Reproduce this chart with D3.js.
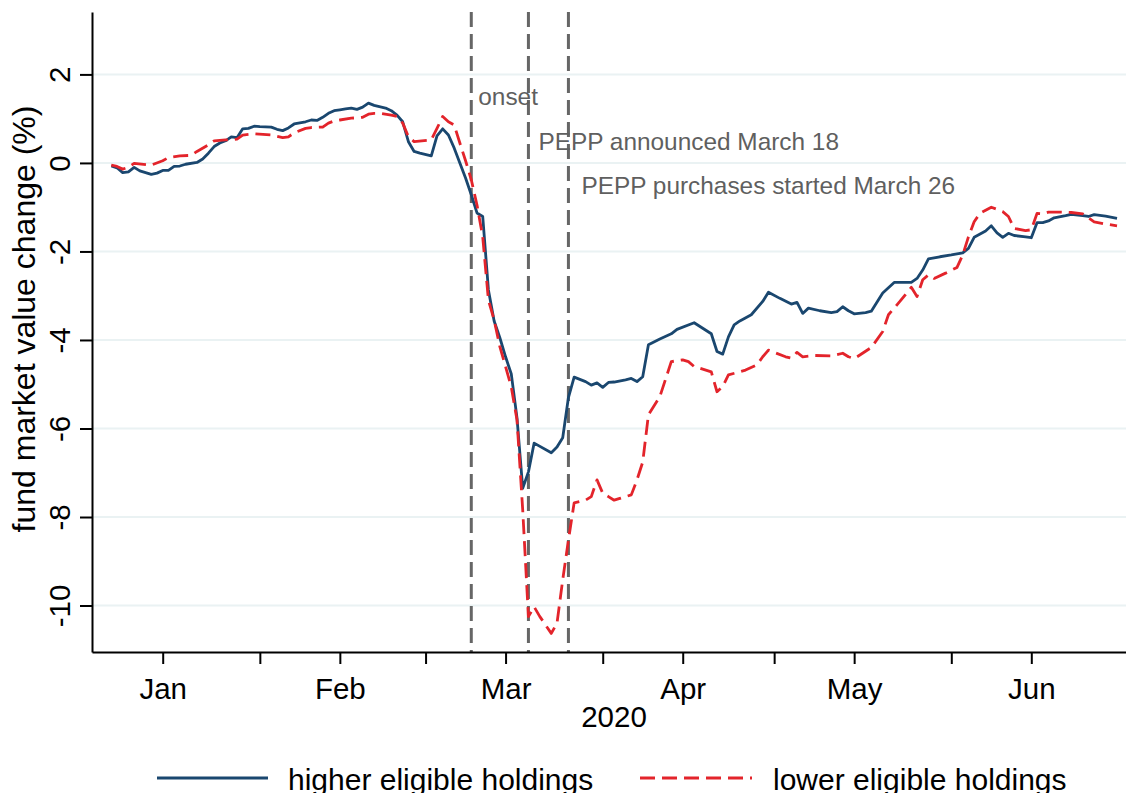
<!DOCTYPE html>
<html>
<head>
<meta charset="utf-8">
<script src="https://cdn.jsdelivr.net/npm/d3@7"></script>
<style>
  body { margin: 0; background: #fff; }
  svg { display: block; font-family: "Liberation Sans", Arial, sans-serif; }
</style>
</head>
<body>
<svg id="chart" width="1126" height="793"></svg>
<script>
// day of year 2020 (1 = Jan 1) and fund market value change in %
const higherDay = [6,7,8,9,10,11,13,14,15,16,17,18,19,21,22,23,24,25,26,27,28,29,30,31,32,34,35,36,37,38,40,41,42,43,44,45,46,47,48,49,50,51,52,54,55,56,57,58,59,60,62,63,64,65,66,67,68,69,70,71,72,73,74,75,76,77,78,79,80,83,84,85,86,87,89,90,91,92,93,94,96,97,98,99,100,102,104,105,108,111,112,113,114,115,116,118,120,121,123,125,126,127,128,130,132,133,134,135,136,138,139,141,143,145,146,147,148,149,151,153,155,156,157,159,160,161,162,163,164,166,167,168,169,170,171,173,174,176,177,178,180,182];
const higherValue = [-0.07,-0.11,-0.22,-0.20,-0.10,-0.18,-0.26,-0.23,-0.17,-0.17,-0.08,-0.07,-0.03,0.01,0.09,0.22,0.37,0.45,0.50,0.59,0.57,0.77,0.78,0.83,0.82,0.81,0.76,0.73,0.79,0.88,0.93,0.97,0.96,1.03,1.12,1.18,1.20,1.22,1.24,1.21,1.26,1.35,1.30,1.24,1.18,1.08,0.93,0.48,0.26,0.22,0.16,0.61,0.77,0.63,0.34,0.00,-0.34,-0.72,-1.13,-1.21,-2.87,-3.57,-3.95,-4.38,-4.77,-5.76,-7.35,-6.98,-6.33,-6.55,-6.42,-6.21,-5.30,-4.84,-4.94,-5.02,-4.97,-5.07,-4.96,-4.95,-4.90,-4.87,-4.94,-4.83,-4.11,-3.98,-3.86,-3.76,-3.61,-3.86,-4.26,-4.32,-3.93,-3.66,-3.57,-3.43,-3.13,-2.92,-3.06,-3.19,-3.15,-3.40,-3.28,-3.34,-3.38,-3.36,-3.25,-3.34,-3.41,-3.38,-3.35,-2.94,-2.70,-2.70,-2.70,-2.61,-2.42,-2.17,-2.12,-2.08,-2.03,-1.93,-1.68,-1.54,-1.42,-1.58,-1.68,-1.59,-1.64,-1.67,-1.69,-1.35,-1.35,-1.31,-1.24,-1.19,-1.16,-1.19,-1.21,-1.17,-1.20,-1.25];

const lowerDay = [6,7,8,9,10,13,15,16,18,20,21,23,24,26,27,28,29,31,34,36,37,38,40,41,43,44,45,46,48,50,51,52,53,55,56,57,58,59,62,63,64,65,66,67,68,69,70,71,72,73,74,76,77,78,79,80,81,83,84,85,86,87,89,90,91,92,93,94,95,97,98,99,100,102,104,106,107,108,111,112,113,114,117,119,120,121,124,125,126,127,129,132,134,135,136,137,139,141,142,144,146,147,148,149,150,152,154,155,156,157,158,160,162,163,164,166,167,168,169,170,172,174,176,178,180,182];
const lowerValue = [-0.05,-0.08,-0.14,-0.10,-0.01,-0.05,0.05,0.12,0.16,0.17,0.26,0.41,0.50,0.52,0.52,0.54,0.63,0.66,0.63,0.57,0.59,0.68,0.78,0.80,0.81,0.90,0.95,0.97,1.01,1.03,1.10,1.12,1.12,1.08,1.05,0.90,0.59,0.48,0.52,0.78,1.05,0.93,0.86,0.45,0.05,-0.38,-0.95,-1.67,-3.10,-3.55,-4.15,-5.06,-5.81,-7.84,-10.25,-10.03,-10.25,-10.63,-10.40,-9.42,-8.52,-7.68,-7.62,-7.54,-7.16,-7.46,-7.54,-7.62,-7.58,-7.50,-7.16,-6.76,-5.69,-5.28,-4.49,-4.45,-4.49,-4.60,-4.72,-5.17,-5.05,-4.79,-4.68,-4.56,-4.38,-4.23,-4.38,-4.41,-4.28,-4.38,-4.35,-4.36,-4.30,-4.38,-4.42,-4.34,-4.17,-3.81,-3.43,-3.13,-2.81,-3.02,-2.64,-2.53,-2.61,-2.49,-2.36,-2.08,-1.67,-1.33,-1.14,-1.00,-1.10,-1.21,-1.48,-1.53,-1.51,-1.14,-1.15,-1.11,-1.11,-1.12,-1.15,-1.33,-1.38,-1.42];

const yTicks = [-10, -8, -6, -4, -2, 0, 2];
const monthLabels = ["Jan", "Feb", "Mar", "Apr", "May", "Jun"];
const eventDays = [69, 79, 86];
const eventLabels = ["onset", "PEPP announced March 18", "PEPP purchases started March 26"];
const seriesNames = ["higher eligible holdings", "lower eligible holdings"];

const day = d => new Date(2020, 0, d);

const plotLeft = 92, plotRight = 1136, plotTop = 12, plotBottom = 652;
const navy = "#1a476f", red = "#e3242b", grey = "#666666";

const svg = d3.select("#chart");

// mid-month ticks carry the labels, first-of-month ticks are unlabeled
const labelTicks = monthLabels.map((m, i) => new Date(2020, i, 15));
const startTicks = monthLabels.slice(1).map((m, i) => new Date(2020, i + 1, 1));

const xFit = d3.scaleTime().domain([labelTicks[0], labelTicks[5]]).range([162.7, 1031.3]);
const x = d3.scaleTime().domain([xFit.invert(plotLeft), xFit.invert(plotRight)]).range([plotLeft, plotRight]);
const y = d3.scaleLinear().domain([-11.05, 3.41]).range([plotBottom, plotTop]);

// grid
svg.append("g")
  .selectAll("line")
  .data(yTicks)
  .join("line")
  .attr("x1", plotLeft).attr("x2", plotRight)
  .attr("y1", d => y(d)).attr("y2", d => y(d))
  .attr("stroke", "#eaf2f3")
  .attr("stroke-width", 2);

// event lines
svg.append("g")
  .selectAll("line")
  .data(eventDays)
  .join("line")
  .attr("x1", d => x(day(d))).attr("x2", d => x(day(d)))
  .attr("y1", plotTop).attr("y2", plotBottom)
  .attr("stroke", grey)
  .attr("stroke-width", 3)
  .attr("stroke-dasharray", "15,7");

const labelRows = [105, 150, 194];
const labelShift = [7, 10, 13];
svg.append("g")
  .selectAll("text")
  .data(eventDays)
  .join("text")
  .attr("x", (d, i) => x(day(d)) + labelShift[i])
  .attr("y", (d, i) => labelRows[i])
  .attr("fill", "#5f5f5f")
  .style("font-size", "24.4px")
  .text((d, i) => eventLabels[i]);

// series
const line = d3.line()
  .x(d => x(day(d[0])))
  .y(d => y(d[1]));

svg.append("path")
  .datum(higherDay.map((d, i) => [d, higherValue[i]]))
  .attr("d", line)
  .attr("fill", "none")
  .attr("stroke", navy)
  .attr("stroke-width", 2.8)
  .attr("stroke-linejoin", "round");

svg.append("path")
  .datum(lowerDay.map((d, i) => [d, lowerValue[i]]))
  .attr("d", line)
  .attr("fill", "none")
  .attr("stroke", red)
  .attr("stroke-width", 2.8)
  .attr("stroke-dasharray", "15,7")
  .attr("stroke-linejoin", "round");

// axes
const xAxis = svg.append("g")
  .attr("transform", `translate(0,${plotBottom})`)
  .call(d3.axisBottom(x)
    .tickValues(labelTicks.concat(startTicks))
    .tickSize(12)
    .tickSizeOuter(0)
    .tickFormat(d => d.getDate() === 15 ? d3.timeFormat("%b")(d) : ""));
xAxis.selectAll("path, line").attr("stroke", "#000").attr("stroke-width", 2);
xAxis.selectAll("text")
  .attr("y", 47).attr("dy", null)
  .attr("fill", "#000")
  .style("font-size", "29.5px");

const yAxis = svg.append("g")
  .attr("transform", `translate(${plotLeft},0)`)
  .call(d3.axisLeft(y).tickValues(yTicks).tickSize(12).tickSizeOuter(0)
    .tickFormat(d => String(d)));
yAxis.selectAll("path, line").attr("stroke", "#000").attr("stroke-width", 2);
yAxis.selectAll("text")
  .attr("x", null).attr("dy", null)
  .attr("text-anchor", "middle")
  .attr("transform", "translate(-22,0) rotate(-90)")
  .attr("fill", "#000")
  .style("font-size", "29.5px");

// titles
svg.append("text")
  .attr("x", (plotLeft + plotRight) / 2).attr("y", 727)
  .attr("text-anchor", "middle")
  .style("font-size", "29.5px")
  .text("2020");

svg.append("text")
  .attr("transform", "translate(35,319) rotate(-90)")
  .attr("text-anchor", "middle")
  .style("font-size", "32px")
  .text("fund market value change (%)");

// legend
const legend = svg.append("g");
legend.append("line")
  .attr("x1", 157).attr("x2", 268).attr("y1", 778).attr("y2", 778)
  .attr("stroke", navy).attr("stroke-width", 2.8);
legend.append("text")
  .attr("x", 288).attr("y", 790)
  .style("font-size", "30px")
  .text(seriesNames[0]);
legend.append("line")
  .attr("x1", 640).attr("x2", 752).attr("y1", 778).attr("y2", 778)
  .attr("stroke", red).attr("stroke-width", 2.8)
  .attr("stroke-dasharray", "15,7");
legend.append("text")
  .attr("x", 773).attr("y", 790)
  .style("font-size", "30px")
  .text(seriesNames[1]);
</script>
</body>
</html>
